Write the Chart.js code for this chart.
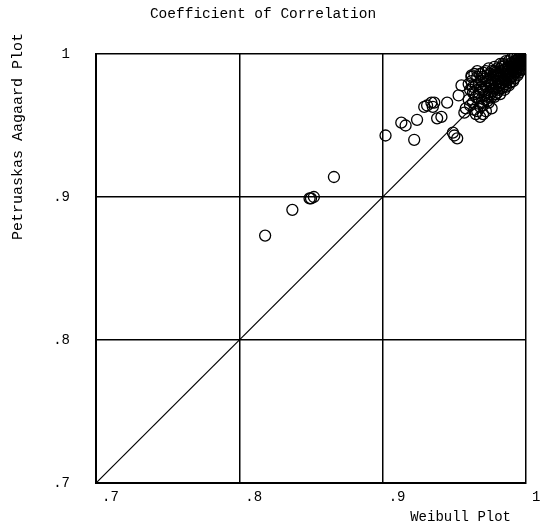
<!DOCTYPE html>
<html>
<head>
<meta charset="utf-8">
<script src="https://cdn.jsdelivr.net/npm/chart.js@4/dist/chart.umd.min.js"></script>
<style>
  html, body { margin: 0; padding: 0; background: #fff; }
  #wrap { width: 544px; height: 528px; }
</style>
</head>
<body>
<div id="wrap"><canvas id="corrChart"></canvas></div>
<script>
// coefficient of correlation, Weibull plot vs Petruaskas Aagaard plot

const weibull = [
    .818, .837, .849, .852, .850, .866,
    .902, .913, .916, .924, .922, .929, .931, .934, .936, .938, .941, .935, .945,
    .950, .952, .949, .955, .962, .953, .963, .957, .964, .968, .965,
    .958, .960, .961, .962, .963, .964, .965, .966, .966, .967, .968, .969, .970, .970,
    .971, .972, .972, .973, .974, .975, .975, .976, .977, .977, .978, .979, .979, .980,
    .981, .981, .982, .982, .983, .983, .984, .984, .985, .985, .986, .986, .987, .987,
    .988, .988, .989, .989, .990, .990, .991, .991, .992, .992, .993, .993, .994, .994,
    .995, .995, .996, .996, .997, .997, .998, .998, .999, .999, 1.0, .999, .997, .995,
    .993, .991, .989, .987, .985, .983, .981, .979, .977, .975, .973, .971, .969, .967,
    .965, .963, .961, .968, .974, .978, .980, .983, .986, .990, .993, .996, .998, .976,
    .972, .970,
    .960, .962, .964, .966, .968, .970, .972, .974, .976, .978, .980, .982, .984, .986,
    .988, .990, .992, .994, .996, .969, .971, .973, .975, .977, .979, .981, .983, .985,
    .987, .989, .991, .993, .995, .997, .999, .985, .988, .991, .994, .997, .999, .982,
    .986, .989, .992, .995, .998, .967, .970, .973, .976, .979, .982, .985, .988, .991,
    .994, .997
];
const petruaskas = [
    .873, .891, .899, .900, .899, .914,
    .943, .952, .950, .954, .940, .963, .964, .966, .966, .955, .956, .963, .966,
    .943, .941, .945, .978, .985, .971, .973, .959, .961, .956, .958,
    .962, .968, .975, .981, .966, .972, .978, .984, .960, .969, .975, .981, .964, .987,
    .971, .977, .983, .967, .973, .979, .986, .970, .976, .982, .988, .972, .979, .985,
    .975, .981, .988, .978, .984, .991, .980, .977, .986, .982, .990, .979, .984, .988,
    .982, .992, .986, .983, .989, .994, .985, .988, .991, .995, .987, .990, .993, .996,
    .989, .992, .995, .997, .993, .996, .998, .995, .997, .999, 1.0, .996, .999, .997,
    .995, .993, .991, .990, .989, .987, .986, .984, .985, .983, .981, .979, .977, .973,
    .970, .977, .964, .963, .966, .970, .973, .976, .981, .984, .988, .991, .993, .962,
    .960, .958,
    .979, .984, .986, .988, .986, .984, .988, .990, .988, .991, .990, .993, .993, .995,
    .995, .997, .998, .998, .999, .966, .968, .970, .972, .974, .976, .978, .980, .983,
    .985, .987, .990, .992, .994, .995, .998, .975, .978, .981, .985, .989, .993, .972,
    .977, .980, .983, .987, .990, .979, .975, .985, .980, .987, .983, .992, .988, .992,
    .990, .994
];
const diagX = [.7, 1];
const diagY = [.7, 1];
const tickValues = [.7, .8, .9, 1];

const FONT = "'Liberation Mono', 'DejaVu Sans Mono', monospace";

const fmtTick = (v) => {
    const r = Math.round(v * 10) / 10;
    return r >= 1 ? '1' : '.' + Math.round(r * 10);
};

const points = weibull.map((x, i) => ({ x: x, y: petruaskas[i] }));
const diagonal = diagX.map((x, i) => ({ x: x, y: diagY[i] }));

// axis titles sit a bit off the plot edges, so draw them here
const axisTitles = {
    id: 'axisTitles',
    afterDraw(chart) {
        const c = chart.ctx;
        c.save();
        c.fillStyle = '#000';
        c.font = '14px ' + FONT;
        c.textAlign = 'right';
        c.textBaseline = 'middle';
        c.fillText('Weibull Plot', 511, 517);
        c.translate(18, 33);
        c.rotate(-Math.PI / 2);
        c.font = '15px ' + FONT;
        c.fillText('Petruaskas Aagaard Plot', 0, 0);
        c.restore();
    }
};

const ctx = document.getElementById('corrChart').getContext('2d');

new Chart(ctx, {
    type: 'scatter',
    data: {
        datasets: [{
            type: 'line',
            data: diagonal,
            borderColor: '#000',
            borderWidth: 1.2,
            pointRadius: 0,
            fill: false,
            order: 2
        }, {
            data: points,
            pointRadius: 5.5,
            pointBorderWidth: 1.3,
            borderColor: '#000',
            backgroundColor: 'rgba(255,255,255,0)',
            order: 1
        }]
    },
    options: {
        responsive: true,
        maintainAspectRatio: false,
        animation: false,
        layout: { padding: { left: 0, right: 18, top: 0, bottom: 0 } },
        plugins: {
            legend: { display: false },
            tooltip: { enabled: false },
            title: {
                display: true,
                text: 'Coefficient of Correlation',
                color: '#000',
                font: { family: FONT, size: 14.5, weight: 'normal', lineHeight: 1.2 },
                padding: { top: 5, bottom: 31.6 }
            }
        },
        scales: {
            x: {
                type: 'linear',
                min: .7,
                max: 1,
                afterBuildTicks: (scale) => { scale.ticks = tickValues.map(v => ({ value: v })); },
                afterFit: (scale) => { scale.height = 45; },
                grid: { color: '#000', lineWidth: 1.5, drawTicks: false },
                border: { color: '#000', width: 2 },
                ticks: {
                    color: '#000',
                    font: { family: FONT, size: 14 },
                    padding: 6,
                    align: 'start',
                    labelOffset: 6,
                    maxRotation: 0,
                    callback: (v) => fmtTick(v)
                }
            },
            y: {
                type: 'linear',
                min: .7,
                max: 1,
                afterBuildTicks: (scale) => { scale.ticks = tickValues.map(v => ({ value: v })); },
                afterFit: (scale) => { scale.width = 96; },
                grid: { color: '#000', lineWidth: 1.5, drawTicks: false },
                border: { color: '#000', width: 2 },
                ticks: {
                    color: '#000',
                    font: { family: FONT, size: 14 },
                    padding: 26,
                    callback: (v) => fmtTick(v)
                }
            }
        }
    },
    plugins: [axisTitles]
});
</script>
</body>
</html>
